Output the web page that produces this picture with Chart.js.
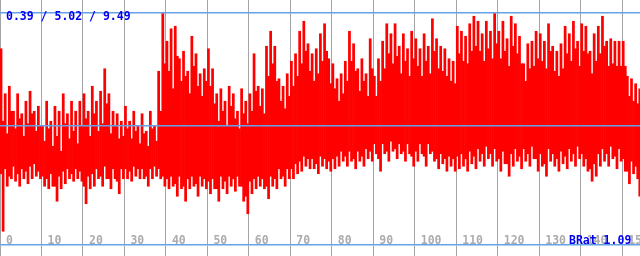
<!DOCTYPE html>
<html><head><meta charset="utf-8">
<script src="https://cdn.jsdelivr.net/npm/chart.js@4/dist/chart.umd.min.js"></script>
<style>html,body{margin:0;padding:0;background:#fff;overflow:hidden}#wrap{width:640px;height:256px}</style>
</head><body><div id="wrap"><canvas id="c" width="640" height="256"></canvas></div>
<script>
// x tick values (units) and labels
const xTickValues = [0,10,20,30,40,50,60,70,80,90,100,110,120,130,140,150];
const xTickLabels = ['0','10','20','30','40','50','60','70','80','90','100','110','120','130','140','150'];
// per-unit peak values
const upperValues = [
 8.1,6.3,6.6,5.6,6.3,5.5,6.0,6.4,5.6,5.8,
 5.0,6.0,5.2,5.8,5.6,6.3,5.5,6.0,5.6,6.0,
 6.3,5.6,6.6,6.0,6.4,7.3,6.3,5.6,5.5,5.2,
 5.8,5.2,5.6,5.0,5.5,4.8,5.6,5.0,7.2,9.5,
 8.4,8.9,9.0,7.7,8.0,7.2,8.6,7.9,7.1,7.3,
 8.1,7.3,6.3,6.5,6.0,6.6,6.3,5.6,6.5,6.0,
 6.3,7.9,6.6,6.5,8.2,8.8,8.2,6.9,6.6,7.1,
 7.6,7.9,8.8,9.2,8.3,7.9,8.1,8.7,9.1,7.7,
 7.5,6.9,7.1,7.6,8.8,8.3,7.3,7.7,7.1,8.5,
 7.0,7.7,8.4,9.1,8.7,9.1,8.2,8.7,8.1,8.8,
 8.5,8.1,8.7,8.2,9.3,8.5,8.2,8.1,7.7,7.6,
 9.0,8.8,8.6,9.1,9.4,9.2,8.7,9.2,8.8,9.5,
 8.8,9.2,8.5,9.4,9.1,8.6,7.5,8.3,8.4,8.8,
 8.7,8.4,9.1,8.2,8.0,8.3,9.0,8.7,9.2,8.4,
 9.1,9.0,8.0,8.7,9.0,9.4,8.4,8.5,8.4,8.4,
 8.4,7.0,6.9,6.7,6.5
];
// per-unit secondary bottoms (bottom of the peak column)
const midLowValues = [
 3.1,3.3,3.0,3.4,3.1,3.3,3.2,3.4,3.5,3.2,
 3.0,2.9,3.1,2.6,3.0,3.2,3.3,3.1,3.3,3.2,
 2.6,3.0,3.1,3.3,3.0,3.4,2.9,3.3,2.8,3.3,
 3.3,3.2,3.4,3.3,3.3,3.0,3.3,3.4,3.3,3.0,
 2.9,3.0,2.7,3.0,2.6,2.9,3.0,2.7,3.0,2.9,
 2.8,2.9,2.5,3.0,2.8,3.0,2.9,3.0,2.6,2.2,
 2.8,2.9,3.0,2.9,2.6,3.0,2.9,3.3,3.0,3.3,
 3.3,3.5,3.6,3.8,3.7,3.7,3.5,3.8,3.7,3.6,
 3.7,3.8,4.0,3.8,4.0,3.7,4.0,3.8,4.1,4.0,
 4.3,3.7,4.3,4.0,4.4,4.1,4.3,4.0,4.3,3.8,
 4.0,4.3,3.8,4.3,4.0,3.7,3.9,3.7,3.8,3.7,
 3.8,3.9,3.7,4.0,3.8,4.1,3.9,4.2,3.9,4.1,
 3.7,4.0,3.5,3.9,4.1,3.8,4.1,3.9,4.2,3.7,
 3.9,3.5,4.1,3.9,3.7,4.0,3.8,4.1,3.9,4.2,
 3.9,3.7,3.3,3.5,3.9,4.1,3.9,4.2,3.8,4.1,
 3.7,3.2,3.6,3.4,2.2
];
// per-unit dip values
const lowerValues = [
 0.8,2.6,2.9,2.8,2.6,2.9,2.7,2.9,3.0,2.9,
 2.6,2.5,2.6,2.0,2.5,2.7,2.9,2.8,2.9,2.8,
 1.9,2.5,2.6,2.9,2.6,2.9,2.5,2.9,2.3,2.9,
 2.9,2.8,3.0,2.9,2.9,2.6,2.9,3.0,2.9,2.6,
 2.5,2.6,2.2,2.5,2.0,2.5,2.6,2.2,2.6,2.5,
 2.3,2.5,2.0,2.5,2.3,2.6,2.4,2.6,2.0,1.5,
 2.3,2.5,2.6,2.5,2.1,2.6,2.5,2.9,2.6,2.9,
 2.9,3.1,3.2,3.4,3.3,3.3,3.1,3.4,3.3,3.2,
 3.3,3.4,3.6,3.4,3.6,3.3,3.6,3.4,3.7,3.6,
 3.9,3.2,3.9,3.6,4.0,3.7,3.9,3.6,3.9,3.4,
 3.6,3.9,3.4,3.9,3.6,3.3,3.5,3.2,3.4,3.2,
 3.3,3.4,3.2,3.5,3.3,3.6,3.4,3.7,3.4,3.6,
 3.2,3.5,3.0,3.4,3.6,3.3,3.6,3.4,3.7,3.2,
 3.4,3.0,3.6,3.4,3.2,3.5,3.3,3.6,3.4,3.7,
 3.4,3.2,2.8,3.0,3.4,3.6,3.4,3.7,3.3,3.6,
 3.2,2.7,3.1,2.9,1.5
];
// per-unit secondary tops (top of the dip column)
const midHighValues = [
 5.2,4.7,5.6,4.9,5.3,4.6,5.1,5.5,4.8,5.0,
 4.4,4.9,4.2,4.6,4.0,5.1,4.5,4.8,4.3,5.0,
 5.3,4.6,5.5,4.8,5.1,5.9,4.7,5.0,4.5,4.6,
 4.9,4.5,4.8,4.3,4.7,4.2,4.9,4.4,5.6,7.5,
 7.2,6.5,7.8,6.8,7.0,6.3,7.4,6.6,6.2,6.8,
 6.6,5.9,5.2,5.6,5.0,5.8,5.3,4.9,5.5,5.1,
 5.6,6.4,5.8,5.5,7.0,7.5,6.8,6.0,5.7,6.2,
 6.6,7.0,7.5,8.0,7.2,6.8,7.1,7.6,8.0,6.7,
 6.5,6.0,6.3,6.8,7.6,7.2,6.4,6.8,6.2,7.3,
 6.2,6.8,7.3,7.9,7.5,7.8,7.1,7.6,7.0,7.7,
 7.4,7.0,7.6,7.1,8.0,7.3,7.2,7.0,6.8,6.7,
 7.9,7.6,7.5,8.0,8.2,8.0,7.6,8.1,7.7,8.3,
 7.7,8.0,7.4,8.2,7.9,7.5,6.8,7.3,7.4,7.7,
 7.6,7.3,8.0,7.2,7.0,7.3,7.9,7.6,8.1,7.4,
 8.0,7.9,7.1,7.6,7.9,8.2,7.4,7.5,7.4,7.4,
 7.4,6.2,6.0,5.9,5.6
];
const statsValues = [0.39, 5.02, 9.49]; // min / mean / max
const bRatValue = 1.09;
const topRefValue = 9.53;

const columns = [];
for (let i = 0; i < upperValues.length; i++) {
  columns.push({x: i + 0.25, y: [midLowValues[i], upperValues[i]]});
  columns.push({x: i + 0.75, y: [lowerValues[i], midHighValues[i]]});
}
const X_MAX = 154.3;
const meanLine = [{x: 0, y: statsValues[1]}, {x: X_MAX, y: statsValues[1]}];

const BLUE_LINE = 'rgb(100,162,232)';
const GRID_GRAY = 'rgb(165,165,165)';
const FONT = "bold 11.5px 'DejaVu Sans Mono', 'Liberation Mono', monospace";

const overlay = {
  id: 'overlay',
  afterDraw(chart) {
    const ctx = chart.ctx;
    const xs = chart.scales.x;
    ctx.save();
    ctx.font = FONT;
    ctx.textBaseline = 'alphabetic';
    ctx.textAlign = 'left';
    ctx.fillStyle = 'rgb(172,172,172)';
    xs.ticks.forEach(t => {
      const idx = xTickValues.indexOf(t.value);
      if (idx < 0) return;
      ctx.fillText(xTickLabels[idx], xs.getPixelForValue(t.value) + 6, 244);
    });
    ctx.fillStyle = 'rgb(0,0,240)';
    ctx.fillText(statsValues.map(v => v.toFixed(2)).join(' / '), 6, 20);
    ctx.fillText('BRat ' + bRatValue.toFixed(2), 569, 244);
    ctx.restore();
  }
};

new Chart(document.getElementById('c'), {
  type: 'bar',
  data: {
    datasets: [
      {type: 'line', data: meanLine, borderColor: BLUE_LINE, borderWidth: 1.5, pointRadius: 0, order: 0},
      {type: 'bar', data: columns, backgroundColor: 'rgb(255,0,0)', borderWidth: 0,
       barPercentage: 1, categoryPercentage: 1, grouped: false, order: 1}
    ]
  },
  options: {
    responsive: false,
    animation: false,
    devicePixelRatio: 1,
    layout: {padding: 0},
    plugins: {legend: {display: false}, tooltip: {enabled: false}, title: {display: false}},
    scales: {
      x: {
        type: 'linear', min: 0, max: X_MAX, offset: false,
        afterBuildTicks: s => { s.ticks = xTickValues.map(v => ({value: v})); },
        ticks: {display: false},
        grid: {color: GRID_GRAY, lineWidth: 1, drawTicks: true, tickLength: 11, offset: false},
        border: {display: true, color: BLUE_LINE, width: 1.5}
      },
      y: {
        type: 'linear', min: 0.25, max: 10.05,
        afterBuildTicks: s => { s.ticks = [{value: topRefValue}]; },
        ticks: {display: false},
        grid: {color: BLUE_LINE, lineWidth: 1.5, drawTicks: false},
        border: {display: false}
      }
    }
  },
  plugins: [overlay]
});
</script>
</body></html>
